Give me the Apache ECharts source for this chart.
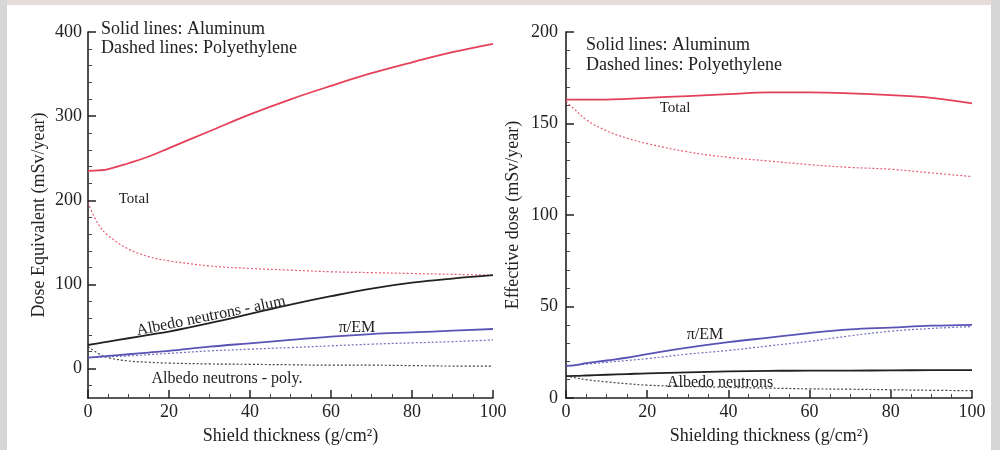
<!DOCTYPE html>
<html>
<head>
<meta charset="utf-8">
<script src="https://cdn.jsdelivr.net/npm/echarts@6/dist/echarts.min.js"></script>
<style>
  html, body { margin: 0; padding: 0; background: #fff; }
  .strip { position: absolute; }
  .top { left: 0; top: 0; width: 1000px; height: 5px; background: #e7dcd7; }
  .lft { left: 0; top: 0; width: 7px; height: 450px; background: #d6d6d6; }
  .rgt { left: 991px; top: 0; width: 9px; height: 450px; background: #d6d6d6; }
  #main { position: absolute; left: 0; top: 0; width: 1000px; height: 450px; }
</style>
</head>
<body>
<div class="strip top"></div>
<div class="strip lft"></div>
<div class="strip rgt"></div>
<div id="main"></div>
<script>
  // shield thickness (g/cm2)
  var xs = [0, 2.5, 5, 10, 15, 20, 30, 40, 50, 60, 70, 80, 90, 100];

  // left: dose equivalent (mSv/year)
  var doseTotalAl   = [235, 235.5, 237, 244, 252, 262, 282, 302, 320, 336, 351, 364, 376, 386];
  var doseTotalPoly = [197, 172, 158, 142, 133, 128, 122, 119, 117, 115, 114, 113, 112, 111];
  var doseAlbedoAl  = [28, 30, 32, 36, 40, 44, 54, 65, 76, 86, 95, 102, 107, 111];
  var doseAlbedoPoly= [26, 18, 13, 9, 7.5, 6.5, 5.5, 5, 4.5, 4, 4, 3.5, 3, 3];
  var dosePiAl      = [13, 14, 15, 17, 19, 21, 26, 30, 34, 38, 41, 43, 45, 47];
  var dosePiPoly    = [13, 13.5, 14, 15, 16.5, 18, 21, 23, 25, 27, 29, 30.5, 32, 34];

  // right: effective dose (mSv/year)
  var effTotalAl    = [163, 163, 163, 163, 163.5, 164, 165, 166, 167, 167, 166.5, 165.5, 164, 161];
  var effTotalPoly  = [162, 157, 152, 146, 142, 139, 134.5, 131.5, 129.5, 127.5, 126, 125, 123, 121];
  var effPiAl       = [17.5, 18, 19, 20.5, 22, 24, 27.5, 30.5, 33, 35.5, 37.5, 38.5, 39.5, 40];
  var effPiPoly     = [17.5, 18, 18.5, 19.5, 20.5, 21.5, 24, 26, 28.5, 31, 34, 36.5, 38, 39];
  var effAlbedoAl   = [12, 12.1, 12.3, 12.7, 13.1, 13.5, 14, 14.5, 14.8, 15, 15, 15.1, 15.2, 15.2];
  var effAlbedoPoly = [12, 11, 10, 8.8, 7.8, 7, 6.3, 5.8, 5.4, 5, 4.8, 4.5, 4.2, 4];

  var leftTicks = [0, 100, 200, 300, 400];
  var leftMinor = [-20, 20, 40, 60, 80, 120, 140, 160, 180, 220, 240, 260, 280, 320, 340, 360, 380];

  var RED = '#e5405a', BLUE = '#5953b5', BLACK = '#222';
  var FONT = 'Liberation Serif';

  function pairs(v) {
    var out = [];
    for (var i = 0; i < xs.length; i++) out.push([xs[i], v[i]]);
    return out;
  }

  function line(v, color, dashed, xi, yi) {
    return {
      type: 'line',
      xAxisIndex: xi,
      yAxisIndex: yi,
      data: pairs(v),
      smooth: 0.4,
      showSymbol: false,
      silent: true,
      lineStyle: dashed
        ? { color: color, width: 1.2, type: [2, 2], opacity: 0.85 }
        : { color: color, width: 1.8 }
    };
  }

  function xAxis(gi, name) {
    return {
      type: 'value', gridIndex: gi, min: 0, max: 100, interval: 20,
      name: name, nameLocation: 'middle', nameGap: 29,
      nameTextStyle: { fontFamily: FONT, fontSize: 18, color: '#222' },
      axisLine: { onZero: false, lineStyle: { color: BLACK, width: 1.6 } },
      axisTick: { inside: true, length: 8, lineStyle: { color: BLACK, width: 1.5 } },
      minorTick: { show: true, splitNumber: 4, length: 4, lineStyle: { color: '#444' } },
      axisLabel: { fontFamily: FONT, fontSize: 18, color: '#222', margin: 5 },
      splitLine: { show: false }
    };
  }

  var chart = echarts.init(document.getElementById('main'));
  chart.setOption({
    animation: false,
    title: [
      { text: 'Solid lines: Aluminum\nDashed lines: Polyethylene', left: 96, top: 15,
        textStyle: { fontFamily: FONT, fontSize: 18, fontWeight: 'normal', color: '#222', lineHeight: 19 } },
      { text: 'Solid lines: Aluminum\nDashed lines: Polyethylene', left: 581, top: 30,
        textStyle: { fontFamily: FONT, fontSize: 18, fontWeight: 'normal', color: '#222', lineHeight: 20 } }
    ],
    grid: [
      { left: 88, top: 32, width: 405, height: 369 },
      { left: 566, top: 32, width: 406, height: 368 }
    ],
    xAxis: [
      xAxis(0, 'Shield thickness (g/cm²)'),
      xAxis(1, 'Shielding thickness (g/cm²)')
    ],
    yAxis: [
      {
        type: 'value', gridIndex: 0, min: -35, max: 400, position: 'left',
        name: 'Dose Equivalent (mSv/year)', nameLocation: 'middle', nameGap: 40,
        nameTextStyle: { fontFamily: FONT, fontSize: 18, color: '#222' },
        axisLine: { show: true, onZero: false, lineStyle: { color: BLACK, width: 1.6 } },
        axisTick: { show: true, inside: true, length: 8, customValues: leftTicks, lineStyle: { color: BLACK, width: 1.5 } },
        axisLabel: { fontFamily: FONT, fontSize: 18, color: '#222', margin: 6, customValues: leftTicks },
        splitLine: { show: false }
      },
      {
        type: 'value', gridIndex: 0, min: -35, max: 400, position: 'left', offset: 0,
        axisLine: { show: false, onZero: false },
        axisTick: { show: true, inside: true, length: 4, customValues: leftMinor, lineStyle: { color: '#444' } },
        axisLabel: { show: false },
        splitLine: { show: false }
      },
      {
        type: 'value', gridIndex: 1, min: 0, max: 200, interval: 50, position: 'left',
        name: 'Effective dose (mSv/year)', nameLocation: 'middle', nameGap: 44,
        nameTextStyle: { fontFamily: FONT, fontSize: 18, color: '#222' },
        axisLine: { show: true, onZero: false, lineStyle: { color: BLACK, width: 1.6 } },
        axisTick: { show: true, inside: true, length: 8, lineStyle: { color: BLACK, width: 1.5 } },
        minorTick: { show: true, splitNumber: 5, length: 4, lineStyle: { color: '#444' } },
        axisLabel: { fontFamily: FONT, fontSize: 18, color: '#222', margin: 8 },
        splitLine: { show: false }
      }
    ],
    series: [
      line(doseTotalAl, RED, false, 0, 0),
      line(doseTotalPoly, RED, true, 0, 0),
      line(doseAlbedoAl, BLACK, false, 0, 0),
      line(doseAlbedoPoly, BLACK, true, 0, 0),
      line(dosePiAl, BLUE, false, 0, 0),
      line(dosePiPoly, BLUE, true, 0, 0),
      line(effTotalAl, RED, false, 1, 2),
      line(effTotalPoly, RED, true, 1, 2),
      line(effPiAl, BLUE, false, 1, 2),
      line(effPiPoly, BLUE, true, 1, 2),
      line(effAlbedoAl, BLACK, false, 1, 2),
      line(effAlbedoPoly, BLACK, true, 1, 2)
    ],
    graphic: [
      { type: 'text', x: 134, y: 199, style: { text: 'Total', font: '15px "Liberation Serif"', fill: '#222', align: 'center', verticalAlign: 'middle' } },
      { type: 'text', x: 211, y: 316, rotation: 0.2, style: { text: 'Albedo neutrons - alum', font: '16px "Liberation Serif"', fill: '#222', align: 'center', verticalAlign: 'middle' } },
      { type: 'text', x: 357, y: 328, style: { text: 'π/EM', font: '16px "Liberation Serif"', fill: '#222', align: 'center', verticalAlign: 'middle' } },
      { type: 'text', x: 227, y: 379, style: { text: 'Albedo neutrons - poly.', font: '16px "Liberation Serif"', fill: '#222', align: 'center', verticalAlign: 'middle' } },
      { type: 'text', x: 675, y: 108, style: { text: 'Total', font: '15px "Liberation Serif"', fill: '#222', align: 'center', verticalAlign: 'middle' } },
      { type: 'text', x: 705, y: 335, style: { text: 'π/EM', font: '16px "Liberation Serif"', fill: '#222', align: 'center', verticalAlign: 'middle' } },
      { type: 'text', x: 720, y: 383, style: { text: 'Albedo neutrons', font: '16px "Liberation Serif"', fill: '#222', align: 'center', verticalAlign: 'middle' } }
    ]
  });
</script>
</body>
</html>
